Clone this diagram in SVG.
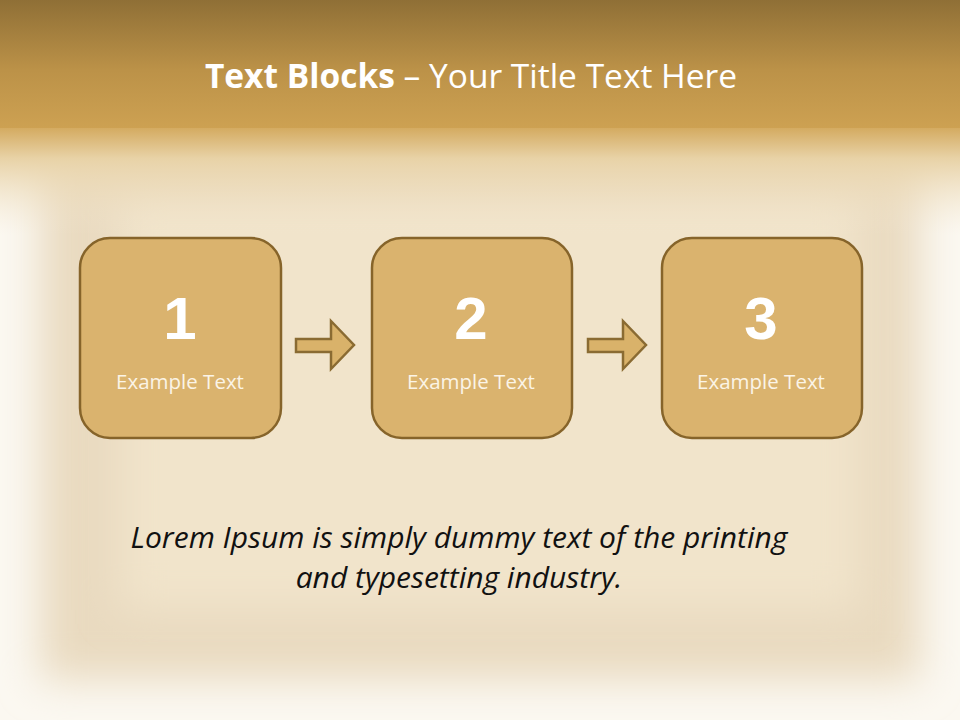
<svg xmlns="http://www.w3.org/2000/svg" width="960" height="720" viewBox="0 0 960 720">
  <defs>
    <linearGradient id="hdr" x1="0" y1="0" x2="0" y2="1">
      <stop offset="0" stop-color="#8F6F36"/>
      <stop offset="0.55" stop-color="#BC9248"/>
      <stop offset="1" stop-color="#CDA152"/>
    </linearGradient>
    <linearGradient id="fade" x1="0" y1="0" x2="0" y2="1">
      <stop offset="0" stop-color="#D2A75A"/>
      <stop offset="0.3" stop-color="#E8D2A6"/>
      <stop offset="1" stop-color="#F3E7D2" stop-opacity="0"/>
    </linearGradient>
    <filter id="soft" x="-10%" y="-10%" width="120%" height="120%">
      <feGaussianBlur stdDeviation="20"/>
    </filter>
    <style>
      .box { fill: #DAB36E; stroke: #86642A; stroke-width: 2.5; }
      .arr { fill: #D9B26A; stroke: #8A6B32; stroke-width: 2.5; stroke-linejoin: miter; }
      .num { font-family: "Liberation Sans", Arial, sans-serif; font-weight: bold; font-size: 60px; fill: #FFFFFF; text-anchor: middle; }
      .lbl { font-family: "Open Sans", "Liberation Sans", sans-serif; font-size: 20.5px; fill: #FBF4E6; text-anchor: middle; }
      .title { font-family: "Open Sans", "Liberation Sans", sans-serif; font-size: 33.5px; fill: #FFFFFF; text-anchor: middle; }
      .body { font-family: "Open Sans", "Liberation Sans", sans-serif; font-style: italic; font-size: 30px; fill: #111111; text-anchor: middle; }
    </style>
  </defs>

  <!-- background -->
  <rect x="0" y="0" width="960" height="720" fill="#FBF8F1"/>
  <rect x="40" y="150" width="880" height="530" fill="#E9DAC0" filter="url(#soft)"/>
  <rect x="120" y="190" width="740" height="420" fill="#F1E4CB" filter="url(#soft)"/>
  <rect x="0" y="125" width="960" height="110" fill="url(#fade)"/>
  <rect x="0" y="0" width="960" height="128" fill="url(#hdr)"/>

  <text class="title" x="471" y="88"><tspan font-weight="bold">Text Blocks</tspan> – Your Title Text Here</text>

  <g id="node1">
    <rect class="box" x="80" y="238" width="201" height="200" rx="30" ry="30"/>
    <text class="num" x="180" y="339">1</text>
    <text class="lbl" x="180" y="389">Example Text</text>
  </g>
  <g id="node2">
    <rect class="box" x="372" y="238" width="200" height="200" rx="30" ry="30"/>
    <text class="num" x="471" y="339">2</text>
    <text class="lbl" x="471" y="389">Example Text</text>
  </g>
  <g id="node3">
    <rect class="box" x="662" y="238" width="200" height="200" rx="30" ry="30"/>
    <text class="num" x="761" y="339">3</text>
    <text class="lbl" x="761" y="389">Example Text</text>
  </g>

  <g id="connectors">
    <polygon class="arr" points="296,339 331,339 331,321 354,345 331,369 331,352 296,352"/>
    <polygon class="arr" points="588,339 623,339 623,321 646,345 623,369 623,352 588,352"/>
  </g>

  <g id="caption">
    <text class="body" x="459" y="548">Lorem Ipsum is simply dummy text of the printing</text>
    <text class="body" x="459" y="588">and typesetting industry.</text>
  </g>
</svg>
